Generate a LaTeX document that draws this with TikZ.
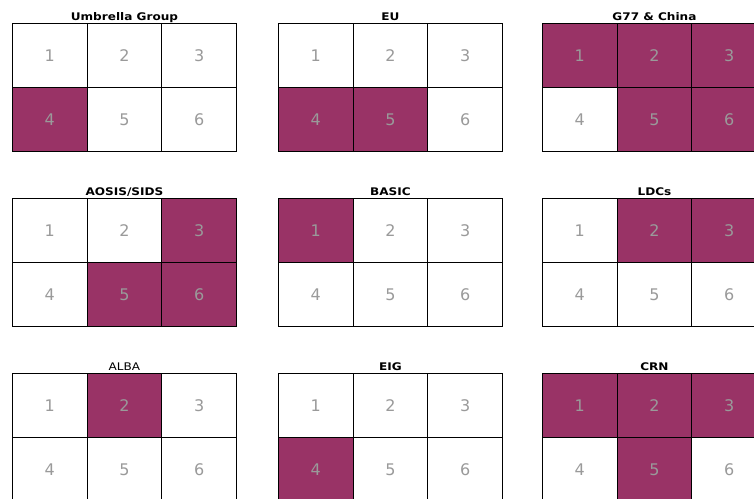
\documentclass[tikz,border=0pt]{standalone}
\usepackage{fontspec}
\setmainfont{DejaVu Sans}
\newfontfamily\ttlfont[FakeStretch=1.15]{DejaVu Sans}
\definecolor{plum}{HTML}{993366}
\definecolor{numgray}{HTML}{9A9A9A}
\newcommand\ngrid[9]{%
  \begin{scope}[shift={#2}]
    \node[cell,fill=#4] (#1-1) at (0,0) {1};
    \node[cell,fill=#5] (#1-2) at (74.67,0) {2};
    \node[cell,fill=#6] (#1-3) at (149.33,0) {3};
    \node[cell,fill=#7] (#1-4) at (0,64) {4};
    \node[cell,fill=#8] (#1-5) at (74.67,64) {5};
    \node[cell,fill=#9] (#1-6) at (149.33,64) {6};
  \end{scope}
  \node[ttl] (#1-t) at ([yshift=3pt]#1-2.north) {#3};
}
\begin{document}
\begin{tikzpicture}[x=1pt,y=-1pt,
  cell/.style={draw=black, line width=0.9pt, minimum width=74.67pt, minimum height=64pt,
    inner sep=0pt, anchor=north west, font=\fontsize{16}{16}\selectfont, text=numgray},
  ttl/.style={font=\ttlfont\bfseries\fontsize{10.5}{12}\selectfont, anchor=base, inner sep=0pt}]
\useasboundingbox (0,0) rectangle (754,498);
\clip (0,0) rectangle (754,498);
\ngrid{ug}{(12,23)}{Umbrella Group}{white}{white}{white}{plum}{white}{white}
\ngrid{eu}{(278,23)}{EU}{white}{white}{white}{plum}{plum}{white}
\ngrid{gc}{(542,23)}{G77 \& China}{plum}{plum}{plum}{white}{plum}{plum}
\ngrid{ao}{(12,198)}{AOSIS/SIDS}{white}{white}{plum}{white}{plum}{plum}
\ngrid{ba}{(278,198)}{BASIC}{plum}{white}{white}{white}{white}{white}
\ngrid{ld}{(542,198)}{LDCs}{white}{plum}{plum}{white}{white}{white}
\ngrid{al}{(12,373)}{\mdseries ALBA}{white}{plum}{white}{white}{white}{white}
\ngrid{ei}{(278,373)}{EIG}{white}{white}{white}{plum}{white}{white}
\ngrid{cr}{(542,373)}{CRN}{plum}{plum}{plum}{white}{plum}{white}
\end{tikzpicture}
\end{document}
